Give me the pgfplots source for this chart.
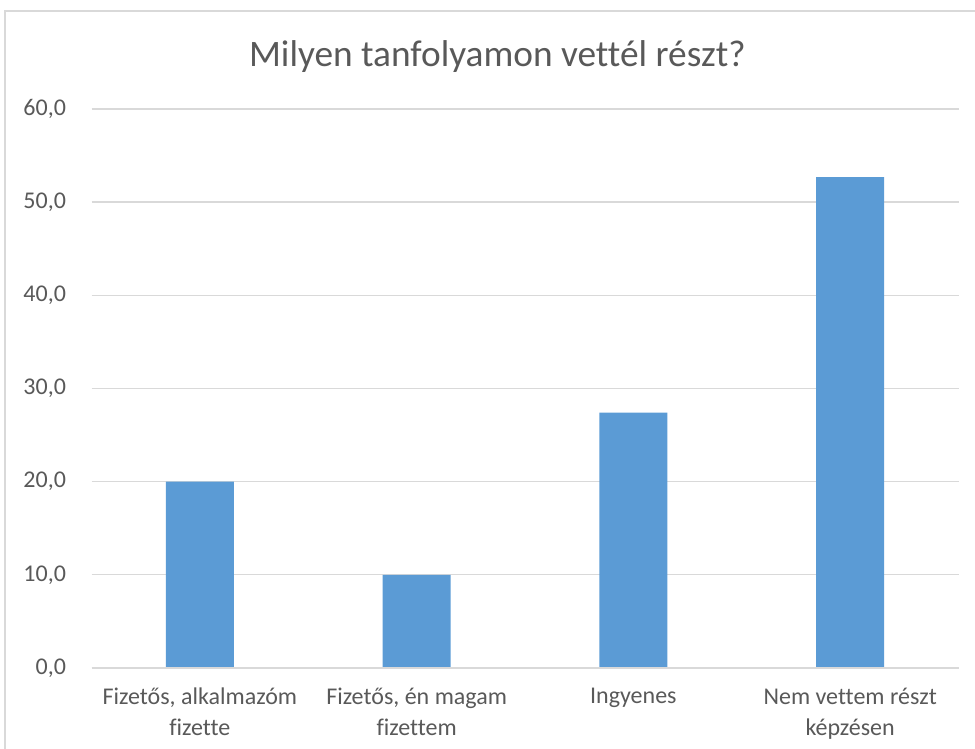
\documentclass[border=0pt]{standalone}
\usepackage{fontspec}
\setmainfont{Carlito}[Ligatures=NoCommon]
\usepackage{pgfplots}
\pgfplotsset{compat=1.18}
\definecolor{BarBlue}{HTML}{5B9BD5}
\definecolor{GridGray}{HTML}{D9D9D9}
\definecolor{TextGray}{HTML}{595959}

\begin{document}
\begin{tikzpicture}
  \useasboundingbox (0,0) rectangle (731.25pt,561.75pt);
  % chart frame (left and top edges are visible)
  \draw[GridGray, line width=1pt] (3.75pt,0) -- (3.75pt,553.5pt) -- (731.25pt,553.5pt);
  \node[TextGray, font=\fontsize{28}{32}\selectfont] at (373pt,519pt) {Milyen tanfolyamon vettél részt?};
  \begin{axis}[
    at={(68.625pt,60.75pt)}, anchor=south west,
    scale only axis,
    width=650.25pt, height=419.25pt,
    ybar, bar width=51pt,
    xmin=-0.5, xmax=3.5,
    ymin=0, ymax=60,
    xtick=data,
    xticklabels={{Fizetős, alkalmazóm\\fizette},{Fizetős, én magam\\fizettem},{Ingyenes},{Nem vettem részt\\képzésen}},
    ytick={0,10,...,60},
    ymajorgrids,
    grid style={GridGray, line width=1pt},
    axis line style={draw=none},
    major tick length=0pt,
    tick style={draw=none},
    ticklabel style={TextGray, font=\fontsize{18}{23}\selectfont},
    xticklabel style={align=center, inner sep=0pt, yshift=-15pt},
    yticklabel style={inner sep=0pt, xshift=-19pt},
    /pgf/number format/.cd, fixed, fixed zerofill, precision=1, use comma, assume math mode=true,
  ]
    \addplot[fill=BarBlue, draw=none] coordinates {(0,20.0) (1,10.0) (2,27.4) (3,52.7)};
    \draw[GridGray, line width=1pt] (axis cs:-0.5,0) -- (axis cs:3.5,0);
  \end{axis}
\end{tikzpicture}
\end{document}
